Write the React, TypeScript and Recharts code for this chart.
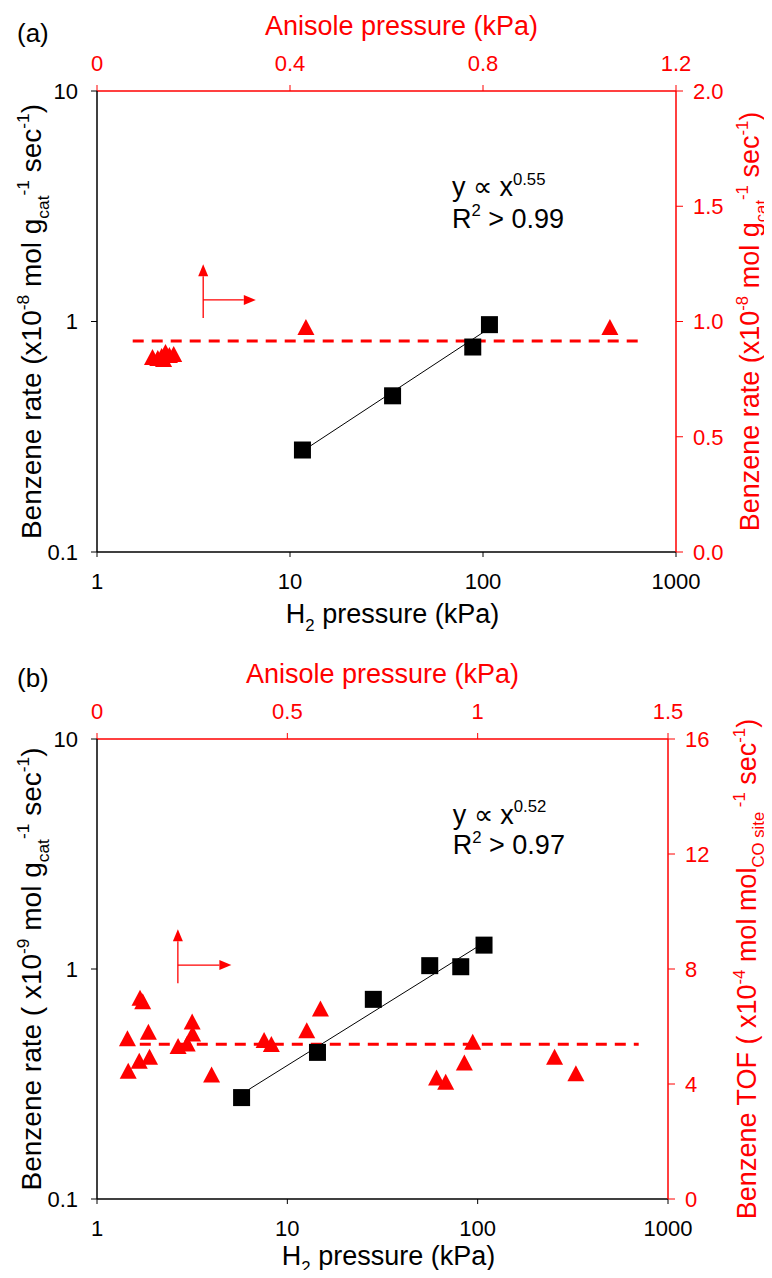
import React from 'react';
import { ComposedChart, Scatter, XAxis, YAxis, ReferenceLine, ReferenceDot } from 'recharts';

const FONT = '"Liberation Sans", Arial, Helvetica, sans-serif';
const RED = '#ff0000';

// ---- panel (a) ----
const h2PressureA = [11.6, 34.0, 88.5, 108];
const benzeneRateA = [0.277, 0.476, 0.775, 0.969];
const fitA = [{ x: 12.4, y: 0.284 }, { x: 104, y: 0.916 }];
const anisolePressureA = [0.115, 0.126, 0.134, 0.142, 0.15, 0.159, 0.138, 0.433, 1.063];
const anisoleRateA = [0.846, 0.842, 0.85, 0.868, 0.855, 0.859, 0.837, 0.976, 0.976];
const meanLineA = [{ x: 0.074, y: 0.915 }, { x: 1.122, y: 0.915 }];
const arrowA = [
  [{ x: 3.55, y: 1.035 }, { x: 3.55, y: 1.77 }],
  [{ x: 3.55, y: 1.24 }, { x: 6.65, y: 1.24 }],
];

// ---- panel (b) ----
const h2PressureB = [5.75, 14.4, 28.3, 56.0, 81.5, 108];
const benzeneRateB = [0.276, 0.434, 0.738, 1.034, 1.023, 1.27];
const fitB = [{ x: 6.3, y: 0.3 }, { x: 103, y: 1.27 }];
const anisolePressureB = [0.08, 0.082, 0.111, 0.113, 0.12, 0.135, 0.138, 0.213, 0.237, 0.251, 0.25, 0.439, 0.458, 0.301, 0.551, 0.587, 0.892, 0.916, 0.965, 0.987, 1.202, 1.258];
const tofB = [5.59, 4.46, 4.81, 7.0, 6.88, 5.82, 4.95, 5.32, 5.41, 5.76, 6.17, 5.53, 5.39, 4.33, 5.87, 6.63, 4.23, 4.08, 4.75, 5.47, 4.95, 4.37];
const meanLineB = [{ x: 0.0625, y: 5.38 }, { x: 1.423, y: 5.38 }];
const arrowB = [
  [{ x: 2.66, y: 0.867 }, { x: 2.66, y: 1.488 }],
  [{ x: 2.66, y: 1.04 }, { x: 5.08, y: 1.04 }],
];

// ticks
const h2Ticks = [1, 10, 100, 1000];
const rateTicks = [0.1, 1, 10];
const anisoleTicksA = [0, 0.4, 0.8, 1.2];
const anisoleTicksB = [0, 0.5, 1, 1.5];
const rightTicksA = [0, 0.5, 1, 1.5, 2];
const rightTicksB = [0, 4, 8, 12, 16];

type Part = [string, number];

const leftTitleA: Part[] = [['Benzene rate (x10', 0], ['-8', 1], [' mol g', 0], ['cat', -1], ['-1', 1], [' sec', 0], ['-1', 1], [')', 0]];
const rightTitleA: Part[] = leftTitleA;
const leftTitleB: Part[] = [['Benzene rate ( x10', 0], ['-9', 1], [' mol g', 0], ['cat', -1], ['-1', 1], [' sec', 0], ['-1', 1], [')', 0]];
const rightTitleB: Part[] = [['Benzene TOF ( x10', 0], ['-4', 1], [' mol mol', 0], ['CO site', -1], [' -1', 1], [' sec', 0], ['-1', 1], [')', 0]];
const bottomTitle: Part[] = [['H', 0], ['2', -1], [' pressure (kPa)', 0]];
const topTitle: Part[] = [['Anisole pressure (kPa)', 0]];

const notesA = [
  { x: 69, y: 3.85, parts: [['y \u221D x', 0], ['0.55', 1]] as Part[] },
  { x: 69, y: 2.81, parts: [['R', 0], ['2', 1], [' > 0.99', 0]] as Part[] },
];
const notesB = [
  { x: 74, y: 4.71, parts: [['y \u221D x', 0], ['0.52', 1]] as Part[] },
  { x: 74, y: 3.46, parts: [['R', 0], ['2', 1], [' > 0.97', 0]] as Part[] },
];

const zip = (xs: number[], ys: number[]) => xs.map((x, i) => ({ x, y: ys[i] }));

// text with super/subscripts
const Rich = ({ x, y, parts, size, fill = '#000', anchor = 'middle', rotate = false }: any) => {
  const shift = (l: number) => (l === 1 ? -0.42 * size : l === -1 ? 0.28 * size : 0);
  let level = 0;
  const by = y + 0.35 * size;
  return (
    <text
      x={x}
      y={by}
      textAnchor={anchor}
      fontSize={size}
      fill={fill}
      fontFamily={FONT}
      transform={rotate ? `rotate(-90 ${x} ${y})` : undefined}
    >
      {parts.map(([t, l]: Part, i: number) => {
        const d = shift(l) - shift(level);
        level = l;
        return (
          <tspan key={i} dy={d || undefined} fontSize={l ? size * 0.62 : size}>
            {t}
          </tspan>
        );
      })}
    </text>
  );
};

const Square = (p: any) => <rect x={p.cx - 8.5} y={p.cy - 8.5} width={17} height={17} fill="#000" />;
const Triangle = (p: any) => (
  <polygon points={`${p.cx},${p.cy - 8} ${p.cx - 8.5},${p.cy + 8} ${p.cx + 8.5},${p.cy + 8}`} fill={RED} />
);

const ArrowLine = (p: any) => {
  const { x1, y1, x2, y2 } = p;
  const len = Math.hypot(x2 - x1, y2 - y1) || 1;
  const ux = (x2 - x1) / len;
  const uy = (y2 - y1) / len;
  const bx = x2 - ux * 12;
  const by = y2 - uy * 12;
  return (
    <g>
      <line x1={x1} y1={y1} x2={bx} y2={by} stroke={RED} strokeWidth={1.3} />
      <polygon points={`${x2},${y2} ${bx - uy * 5},${by + ux * 5} ${bx + uy * 5},${by - ux * 5}`} fill={RED} />
    </g>
  );
};

interface PanelProps {
  tag: string;
  tagY: number;
  height: number;
  rightWidth: number;
  rightTitleDx: number;
  bottomHeight: number;
  bottomTitleDy: number;
  squares: { x: number; y: number }[];
  fit: { x: number; y: number }[];
  triangles: { x: number; y: number }[];
  meanLine: { x: number; y: number }[];
  arrow: { x: number; y: number }[][];
  notes: { x: number; y: number; parts: Part[] }[];
  anisoleTicks: number[];
  anisoleMax: number;
  rightTicks: number[];
  rightMax: number;
  rightFormat: (v: number) => string;
  leftTitle: Part[];
  rightTitle: Part[];
  topTitleDx: number;
}

const tickStyle = (fill: string) => ({ fill, fontSize: 22, fontFamily: FONT });

const Panel = (p: PanelProps) => (
  <ComposedChart width={772} height={p.height} margin={{ top: 0, right: 0, bottom: 0, left: 0 }}>
    <XAxis
      xAxisId="h2"
      dataKey="x"
      type="number"
      scale="log"
      domain={[1, 1000]}
      ticks={h2Ticks}
      allowDataOverflow
      orientation="bottom"
      height={p.bottomHeight}
      tickSize={5}
      tickMargin={16}
      tick={tickStyle('#000')}
      tickLine={{ stroke: '#000' }}
      axisLine={{ stroke: '#000', strokeWidth: 1.5 }}
      label={(lp: any) => {
        const vb = lp.viewBox;
        return <Rich x={vb.x + vb.width / 2 + 6} y={vb.y + p.bottomTitleDy} parts={bottomTitle} size={27} />;
      }}
    />
    <XAxis
      xAxisId="an"
      dataKey="x"
      type="number"
      domain={[0, p.anisoleMax]}
      ticks={p.anisoleTicks}
      allowDataOverflow
      orientation="top"
      height={91}
      tickSize={6}
      tickMargin={14}
      tick={tickStyle(RED)}
      tickLine={{ stroke: RED }}
      axisLine={{ stroke: RED, strokeWidth: 1.5 }}
      label={(lp: any) => {
        const vb = lp.viewBox;
        return (
          <g>
            <Rich x={vb.x + vb.width / 2 + p.topTitleDx} y={vb.y + 26} parts={topTitle} size={27} fill={RED} />
            <text x={17} y={vb.y + p.tagY + 9} fontSize={26} fontFamily={FONT} fill="#000">
              {p.tag}
            </text>
          </g>
        );
      }}
    />
    <YAxis
      yAxisId="rate"
      dataKey="y"
      type="number"
      scale="log"
      domain={[0.1, 10]}
      ticks={rateTicks}
      allowDataOverflow
      width={97}
      tickSize={6}
      tickMargin={13}
      tick={tickStyle('#000')}
      tickLine={{ stroke: '#000' }}
      axisLine={{ stroke: '#000', strokeWidth: 1.5 }}
      label={(lp: any) => {
        const vb = lp.viewBox;
        return <Rich x={vb.x + 31} y={vb.y + vb.height / 2} parts={p.leftTitle} size={28} rotate />;
      }}
    />
    <YAxis
      yAxisId="right"
      dataKey="y"
      type="number"
      orientation="right"
      domain={[0, p.rightMax]}
      ticks={p.rightTicks}
      tickFormatter={p.rightFormat}
      allowDataOverflow
      width={p.rightWidth}
      tickSize={7}
      tickMargin={10}
      tick={tickStyle(RED)}
      tickLine={{ stroke: RED }}
      axisLine={{ stroke: RED, strokeWidth: 1.5 }}
      label={(lp: any) => {
        const vb = lp.viewBox;
        return (
          <Rich x={vb.x + p.rightTitleDx} y={vb.y + vb.height / 2} parts={p.rightTitle} size={27} fill={RED} rotate />
        );
      }}
    />

    <ReferenceLine
      xAxisId="an"
      yAxisId="right"
      segment={p.meanLine}
      stroke={RED}
      strokeWidth={3}
      strokeDasharray="11 8"
    />
    <ReferenceLine xAxisId="h2" yAxisId="rate" segment={p.fit} stroke="#000" strokeWidth={1} />
    {p.arrow.map((seg, i) => (
      <ReferenceLine key={i} xAxisId="h2" yAxisId="rate" segment={seg} shape={ArrowLine} />
    ))}

    <Scatter xAxisId="an" yAxisId="right" data={p.triangles} shape={Triangle} isAnimationActive={false} />
    <Scatter xAxisId="h2" yAxisId="rate" data={p.squares} shape={Square} isAnimationActive={false} />

    {p.notes.map((n, i) => (
      <ReferenceDot
        key={i}
        xAxisId="h2"
        yAxisId="rate"
        x={n.x}
        y={n.y}
        r={0}
        shape={(sp: any) => <Rich x={sp.cx} y={sp.cy} parts={n.parts} size={27} anchor="start" />}
      />
    ))}
  </ComposedChart>
);

export default function App() {
  return (
    <div style={{ position: 'relative', width: 772, height: 1278, margin: -8, background: '#fff' }}>
      <div style={{ position: 'absolute', left: 0, top: 0 }}>
        <Panel
          tag="(a)"
          tagY={33}
          height={640}
          rightWidth={96}
          rightTitleDx={74}
          bottomHeight={88}
          bottomTitleDy={62}
          squares={zip(h2PressureA, benzeneRateA)}
          fit={fitA}
          triangles={zip(anisolePressureA, anisoleRateA)}
          meanLine={meanLineA}
          arrow={arrowA}
          notes={notesA}
          anisoleTicks={anisoleTicksA}
          anisoleMax={1.2}
          rightTicks={rightTicksA}
          rightMax={2}
          rightFormat={(v) => v.toFixed(1)}
          leftTitle={leftTitleA}
          rightTitle={rightTitleA}
          topTitleDx={15}
        />
      </div>
      <div style={{ position: 'absolute', left: 0, top: 648 }}>
        <Panel
          tag="(b)"
          tagY={30}
          height={630}
          rightWidth={104}
          rightTitleDx={79}
          bottomHeight={79}
          bottomTitleDy={57}
          squares={zip(h2PressureB, benzeneRateB)}
          fit={fitB}
          triangles={zip(anisolePressureB, tofB)}
          meanLine={meanLineB}
          arrow={arrowB}
          notes={notesB}
          anisoleTicks={anisoleTicksB}
          anisoleMax={1.5}
          rightTicks={rightTicksB}
          rightMax={16}
          rightFormat={(v) => String(v)}
          leftTitle={leftTitleB}
          rightTitle={rightTitleB}
          topTitleDx={0}
        />
      </div>
    </div>
  );
}
